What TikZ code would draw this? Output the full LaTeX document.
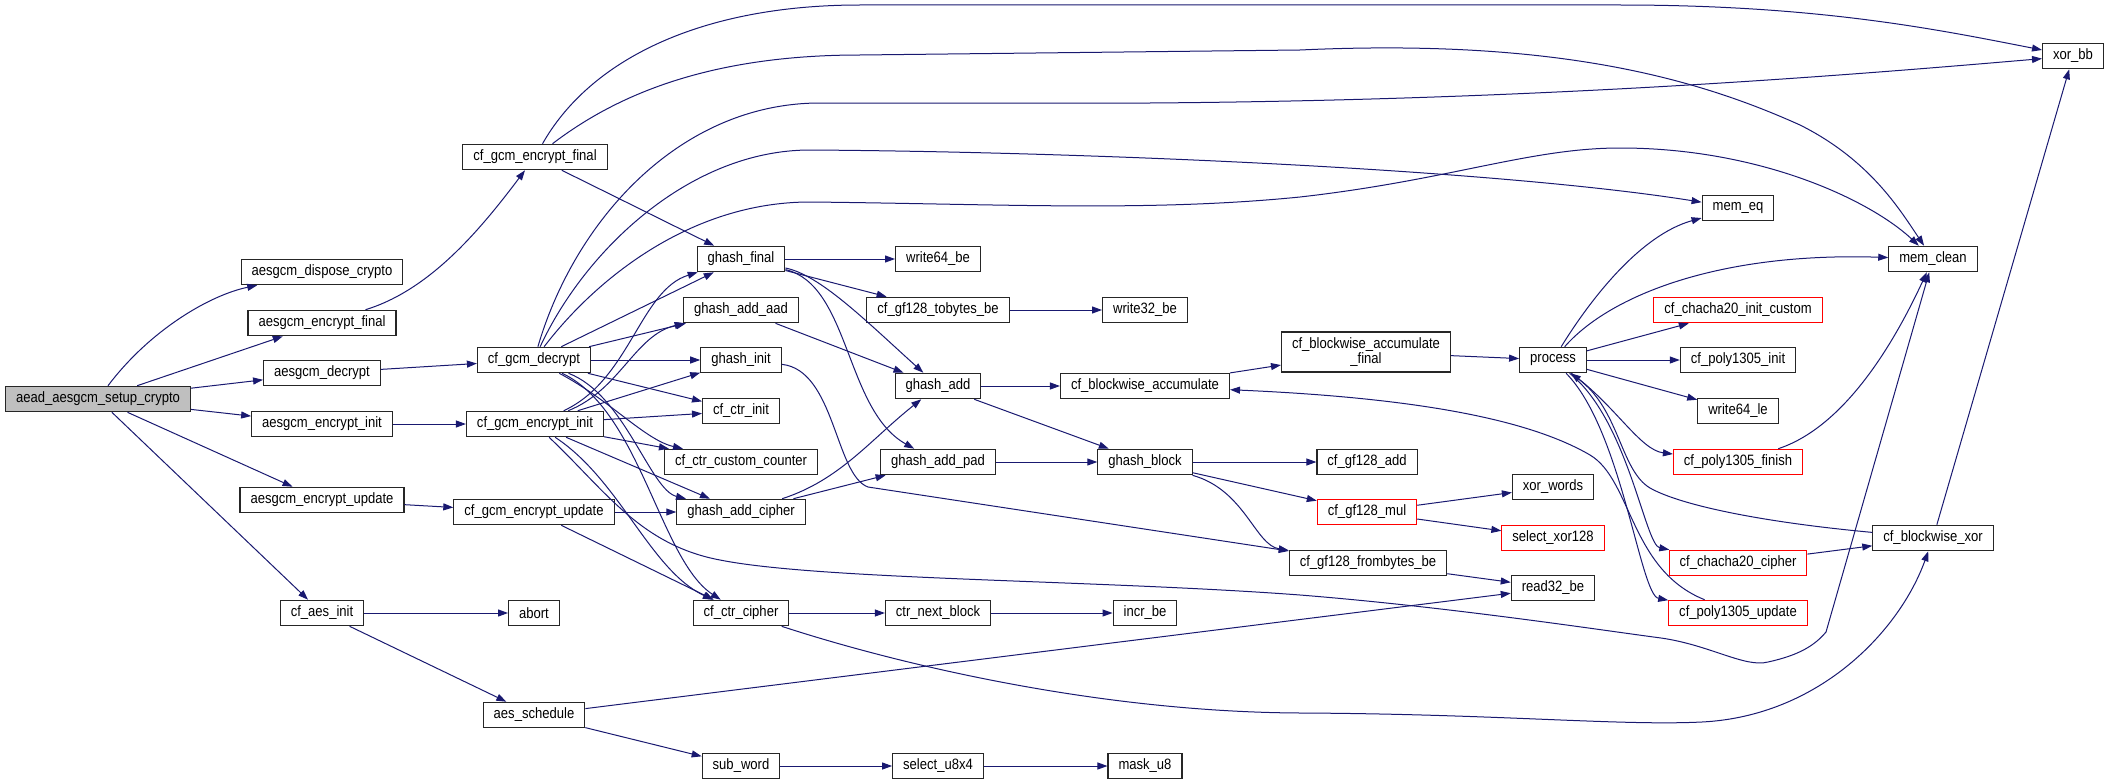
\documentclass[tikz,border=0pt]{standalone}
\usepackage{fontspec}
\setmainfont{Liberation Sans}[FakeStretch=0.87]
\usepackage{tikz}
\usetikzlibrary{arrows.meta}
\definecolor{callblue}{HTML}{191970}
\definecolor{rootgray}{HTML}{BFBFBF}

\begin{document}
\begin{tikzpicture}[x=1pt, y=-1pt,
  fn/.style={draw=black!85, line width=1.1pt, fill=white, minimum height=25.5pt, inner xsep=10.5pt, inner ysep=2pt, font=\fontsize{15}{15}\selectfont},
  fnroot/.style={fn, fill=rootgray},
  fnred/.style={fn, draw=red},
  call/.style={-{Triangle[length=10pt,width=7pt]}, callblue, line width=1pt}
]
\useasboundingbox (0,0) rectangle (2109,784);

% callers
\node[fnroot] (setup) at (98,399) {aead\_aesgcm\_setup\_crypto};
\node[fn] (dispose) at (322,272) {aesgcm\_dispose\_crypto};
\node[fn] (encfinal) at (322,323) {aesgcm\_encrypt\_final};
\node[fn] (decrypt) at (322,373) {aesgcm\_decrypt};
\node[fn] (encinit) at (322,424) {aesgcm\_encrypt\_init};
\node[fn] (encupdate) at (322,500) {aesgcm\_encrypt\_update};
\node[fn] (aesinit) at (322,613) {cf\_aes\_init};

\node[fn] (gcmencfinal) at (535,157) {cf\_gcm\_encrypt\_final};
\node[fn] (gcmdecrypt) at (534,360) {cf\_gcm\_decrypt};
\node[fn] (gcmencinit) at (535,424) {cf\_gcm\_encrypt\_init};
\node[fn] (gcmencupdate) at (534,512) {cf\_gcm\_encrypt\_update};
\node[fn] (abort) at (534,613) {abort};
\node[fn] (aesschedule) at (534,715) {aes\_schedule};

\node[fn] (ghashfinal) at (741,259) {ghash\_final};
\node[fn] (ghashaddaad) at (741,310) {ghash\_add\_aad};
\node[fn] (ghashinit) at (741,360) {ghash\_init};
\node[fn] (ctrinit) at (741,411) {cf\_ctr\_init};
\node[fn] (ctrcustom) at (741,462) {cf\_ctr\_custom\_counter};
\node[fn] (ghashaddcipher) at (741,512) {ghash\_add\_cipher};
\node[fn] (ctrcipher) at (741,613) {cf\_ctr\_cipher};
\node[fn] (subword) at (741,766) {sub\_word};

\node[fn] (write64be) at (938,259) {write64\_be};
\node[fn] (tobytes) at (938,310) {cf\_gf128\_tobytes\_be};
\node[fn] (ghashadd) at (938,386) {ghash\_add};
\node[fn] (ghashaddpad) at (938,462) {ghash\_add\_pad};
\node[fn] (ctrnext) at (938,613) {ctr\_next\_block};
\node[fn] (selectu8x4) at (938,766) {select\_u8x4};

\node[fn] (write32be) at (1145,310) {write32\_be};
\node[fn] (blockacc) at (1145,386) {cf\_blockwise\_accumulate};
\node[fn] (ghashblock) at (1145,462) {ghash\_block};
\node[fn] (incrbe) at (1145,613) {incr\_be};
\node[fn] (masku8) at (1145,766) {mask\_u8};

\node[fn, minimum height=40pt, align=center] (blockaccfinal) at (1366,352) {cf\_blockwise\_accumulate\\\_final};
\node[fn] (gf128add) at (1367,462) {cf\_gf128\_add};
\node[fnred] (gf128mul) at (1367,512) {cf\_gf128\_mul};
\node[fn] (frombytes) at (1368,563) {cf\_gf128\_frombytes\_be};

\node[fn] (process) at (1553,360) {process};
\node[fn] (xorwords) at (1553,487) {xor\_words};
\node[fnred] (selectxor) at (1553,538) {select\_xor128};
\node[fn] (read32be) at (1553,588) {read32\_be};

\node[fn] (memeq) at (1738,208) {mem\_eq};
\node[fnred] (chachainit) at (1738,310) {cf\_chacha20\_init\_custom};
\node[fn] (polyinit) at (1738,360) {cf\_poly1305\_init};
\node[fn] (write64le) at (1738,411) {write64\_le};
\node[fnred] (polyfinish) at (1738,462) {cf\_poly1305\_finish};
\node[fnred] (chachacipher) at (1738,563) {cf\_chacha20\_cipher};
\node[fnred] (polyupdate) at (1738,613) {cf\_poly1305\_update};

\node[fn] (memclean) at (1933,259) {mem\_clean};
\node[fn] (blockxor) at (1933,538) {cf\_blockwise\_xor};
\node[fn] (xorbb) at (2073,56) {xor\_bb};

% calls from the setup function
\draw[call] (setup) .. controls (150,330) and (210,295) .. (dispose);
\draw[call] (setup) -- (encfinal);
\draw[call] (setup) -- (decrypt);
\draw[call] (setup) -- (encinit);
\draw[call] (setup) -- (encupdate);
\draw[call] (setup) -- (aesinit);
\draw[call] (encfinal) .. controls (430,290) and (480,230) .. (gcmencfinal);
\draw[call] (decrypt) -- (gcmdecrypt);
\draw[call] (encinit) -- (gcmencinit);
\draw[call] (encupdate) -- (gcmencupdate);
\draw[call] (aesinit) -- (abort);
\draw[call] (aesinit) -- (aesschedule);
\draw[call] (aesschedule) -- (read32be);
\draw[call] (aesschedule) -- (subword);
\draw[call] (subword) -- (selectu8x4);
\draw[call] (selectu8x4) -- (masku8);

% gcm layer
\draw[call] (gcmencfinal) .. controls (590,60) and (700,5) .. (860,5) -- (1620,5) .. controls (1820,5) and (1940,30) .. (xorbb);
\draw[call] (gcmencfinal) .. controls (610,100) and (700,55) .. (860,55) -- (1300,50) .. controls (1560,38) and (1700,80) .. (1800,125) .. controls (1870,160) and (1900,210) .. (memclean);
\draw[call] (gcmencfinal) -- (ghashfinal);
\draw[call] (gcmdecrypt) .. controls (575,220) and (680,103) .. (820,103) -- (1150,103) .. controls (1550,100) and (1850,75) .. (xorbb);
\draw[call] (gcmdecrypt) .. controls (585,250) and (690,150) .. (810,150) .. controls (1100,152) and (1500,170) .. (memeq);
\draw[call] (gcmdecrypt) .. controls (595,280) and (690,202) .. (810,202) .. controls (1000,204) and (1150,212) .. (1300,197) .. controls (1450,180) and (1530,148) .. (1620,148) .. controls (1760,148) and (1870,200) .. (memclean);
\draw[call] (gcmdecrypt) -- (ghashfinal);
\draw[call] (gcmdecrypt) -- (ghashaddaad);
\draw[call] (gcmdecrypt) -- (ghashinit);
\draw[call] (gcmdecrypt) -- (ctrinit);
\draw[call] (gcmdecrypt) .. controls (610,400) and (645,440) .. (ctrcustom);
\draw[call] (gcmdecrypt) .. controls (625,395) and (650,490) .. (ghashaddcipher);
\draw[call] (gcmdecrypt) .. controls (640,410) and (660,560) .. (ctrcipher);
\draw[call] (gcmencinit) .. controls (630,380) and (640,290) .. (ghashfinal);
\draw[call] (gcmencinit) .. controls (620,390) and (635,335) .. (ghashaddaad);
\draw[call] (gcmencinit) -- (ghashinit);
\draw[call] (gcmencinit) -- (ctrinit);
\draw[call] (gcmencinit) -- (ctrcustom);
\draw[call] (gcmencinit) -- (ghashaddcipher);
\draw[call] (gcmencinit) .. controls (620,480) and (650,570) .. (ctrcipher);
\draw[call] (gcmencinit) .. controls (605,490) and (640,545) .. (720,560) .. controls (820,580) and (1100,580) .. (1300,595) .. controls (1450,607) and (1600,630) .. (1661,638) .. controls (1710,645) and (1745,668) .. (1768,662) .. controls (1800,655) and (1815,645) .. (1826,632) -- (memclean);
\draw[call] (gcmencupdate) -- (ghashaddcipher);
\draw[call] (gcmencupdate) -- (ctrcipher);

% ghash and ctr
\draw[call] (ctrcipher) -- (ctrnext);
\draw[call] (ctrnext) -- (incrbe);
\draw[call] (ctrcipher) .. controls (900,665) and (1100,712) .. (1300,713) .. controls (1500,714) and (1620,726) .. (1702,722) .. controls (1820,716) and (1900,630) .. (blockxor);
\draw[call] (ghashfinal) -- (write64be);
\draw[call] (ghashfinal) -- (tobytes);
\draw[call] (ghashfinal) .. controls (820,275) and (865,320) .. (ghashadd);
\draw[call] (ghashfinal) .. controls (850,285) and (845,410) .. (ghashaddpad);
\draw[call] (tobytes) -- (write32be);
\draw[call] (ghashaddaad) -- (ghashadd);
\draw[call] (ghashinit) .. controls (835,370) and (835,475) .. (868,487) -- (frombytes);
\draw[call] (ghashaddcipher) .. controls (840,480) and (870,440) .. (ghashadd);
\draw[call] (ghashaddcipher) -- (ghashaddpad);
\draw[call] (ghashadd) -- (blockacc);
\draw[call] (ghashadd) -- (ghashblock);
\draw[call] (ghashaddpad) -- (ghashblock);
\draw[call] (blockacc) -- (blockaccfinal);
\draw[call] (blockaccfinal) -- (process);
\draw[call] (ghashblock) -- (gf128add);
\draw[call] (ghashblock) -- (gf128mul);
\draw[call] (ghashblock) .. controls (1245,490) and (1255,545) .. (frombytes);
\draw[call] (gf128mul) -- (xorwords);
\draw[call] (gf128mul) -- (selectxor);
\draw[call] (frombytes) -- (read32be);

% chacha20-poly1305 side
\draw[call] (process) .. controls (1590,300) and (1640,235) .. (memeq);
\draw[call] (process) .. controls (1610,295) and (1720,252) .. (memclean);
\draw[call] (process) -- (chachainit);
\draw[call] (process) -- (polyinit);
\draw[call] (process) -- (write64le);
\draw[call] (process) .. controls (1615,405) and (1640,450) .. (polyfinish);
\draw[call] (process) .. controls (1628,420) and (1645,545) .. (chachacipher);
\draw[call] (process) .. controls (1622,430) and (1640,595) .. (polyupdate);
\draw[call] (blockxor) .. controls (1760,522) and (1680,505) .. (1650,488) .. controls (1620,470) and (1620,410) .. (process);
\draw[call] (polyupdate) .. controls (1630,570) and (1632,480) .. (1590,455) .. controls (1530,420) and (1420,398) .. (blockacc);
\draw[call] (polyfinish) .. controls (1850,425) and (1900,330) .. (memclean);
\draw[call] (chachacipher) -- (blockxor);
\draw[call] (blockxor) -- (xorbb);
\end{tikzpicture}
\end{document}
